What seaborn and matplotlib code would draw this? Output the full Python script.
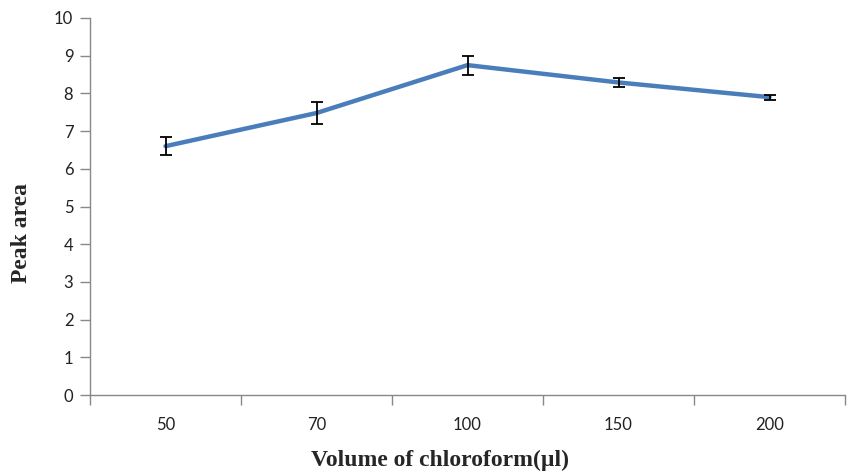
import matplotlib
matplotlib.use("Agg")
import matplotlib.pyplot as plt
import seaborn as sns
import numpy as np
import pandas as pd
from matplotlib.ticker import FixedLocator

categories = ["50", "70", "100", "150", "200"]
peak_area = [6.6, 7.48, 8.75, 8.29, 7.9]
errors = [0.24, 0.3, 0.25, 0.11, 0.07]
y_ticks = [0, 1, 2, 3, 4, 5, 6, 7, 8, 9, 10]

sns.set_style("white")
plt.rcParams['font.family'] = ['Lato', 'DejaVu Sans']

df = pd.DataFrame({"pos": np.arange(len(categories)), "area": peak_area})

fig = plt.figure(figsize=(8.49, 4.76), dpi=100)
ax = fig.add_axes([90/849, 1-395/476, 755/849, 377/476])

sns.lineplot(data=df, x="pos", y="area", ax=ax, color="#4A7EBB", linewidth=3.2,
             solid_capstyle="round")
ax.errorbar(df["pos"], df["area"], yerr=errors, fmt="none", ecolor="black",
            elinewidth=1.3, capsize=4, capthick=1.3, zorder=3)

ax.set_xlim(-0.5, len(categories) - 0.5)
ax.set_ylim(0, 10)
ax.set_yticks(y_ticks)
ax.set_yticklabels([str(t) for t in y_ticks], fontsize=12, color="#222222")
ax.set_xticks(df["pos"])
ax.set_xticklabels(categories, fontsize=12, color="#222222")
ax.xaxis.set_minor_locator(FixedLocator(np.arange(-0.5, len(categories), 1.0)))
ax.tick_params(axis="x", which="major", length=0, pad=16)
ax.tick_params(axis="x", which="minor", length=7, width=1, color="#888888", direction="out", bottom=True)
ax.tick_params(axis="y", which="major", length=7, width=1, color="#888888", direction="out", left=True, pad=5)

for s in ["top", "right"]:
    ax.spines[s].set_visible(False)
for s in ["left", "bottom"]:
    ax.spines[s].set_color("#888888")
    ax.spines[s].set_linewidth(1)

ax.set_xlabel("Volume of chloroform(µl)", fontsize=17, fontweight="bold",
              family=["Liberation Serif", "DejaVu Serif"])
ax.set_ylabel("Peak area", fontsize=17, fontweight="bold",
              family=["Liberation Serif", "DejaVu Serif"])
ax.xaxis.set_label_coords(0.464, -0.146)
ax.yaxis.set_label_coords(-0.077, 0.43)

fig.savefig("out.png", dpi=100)
